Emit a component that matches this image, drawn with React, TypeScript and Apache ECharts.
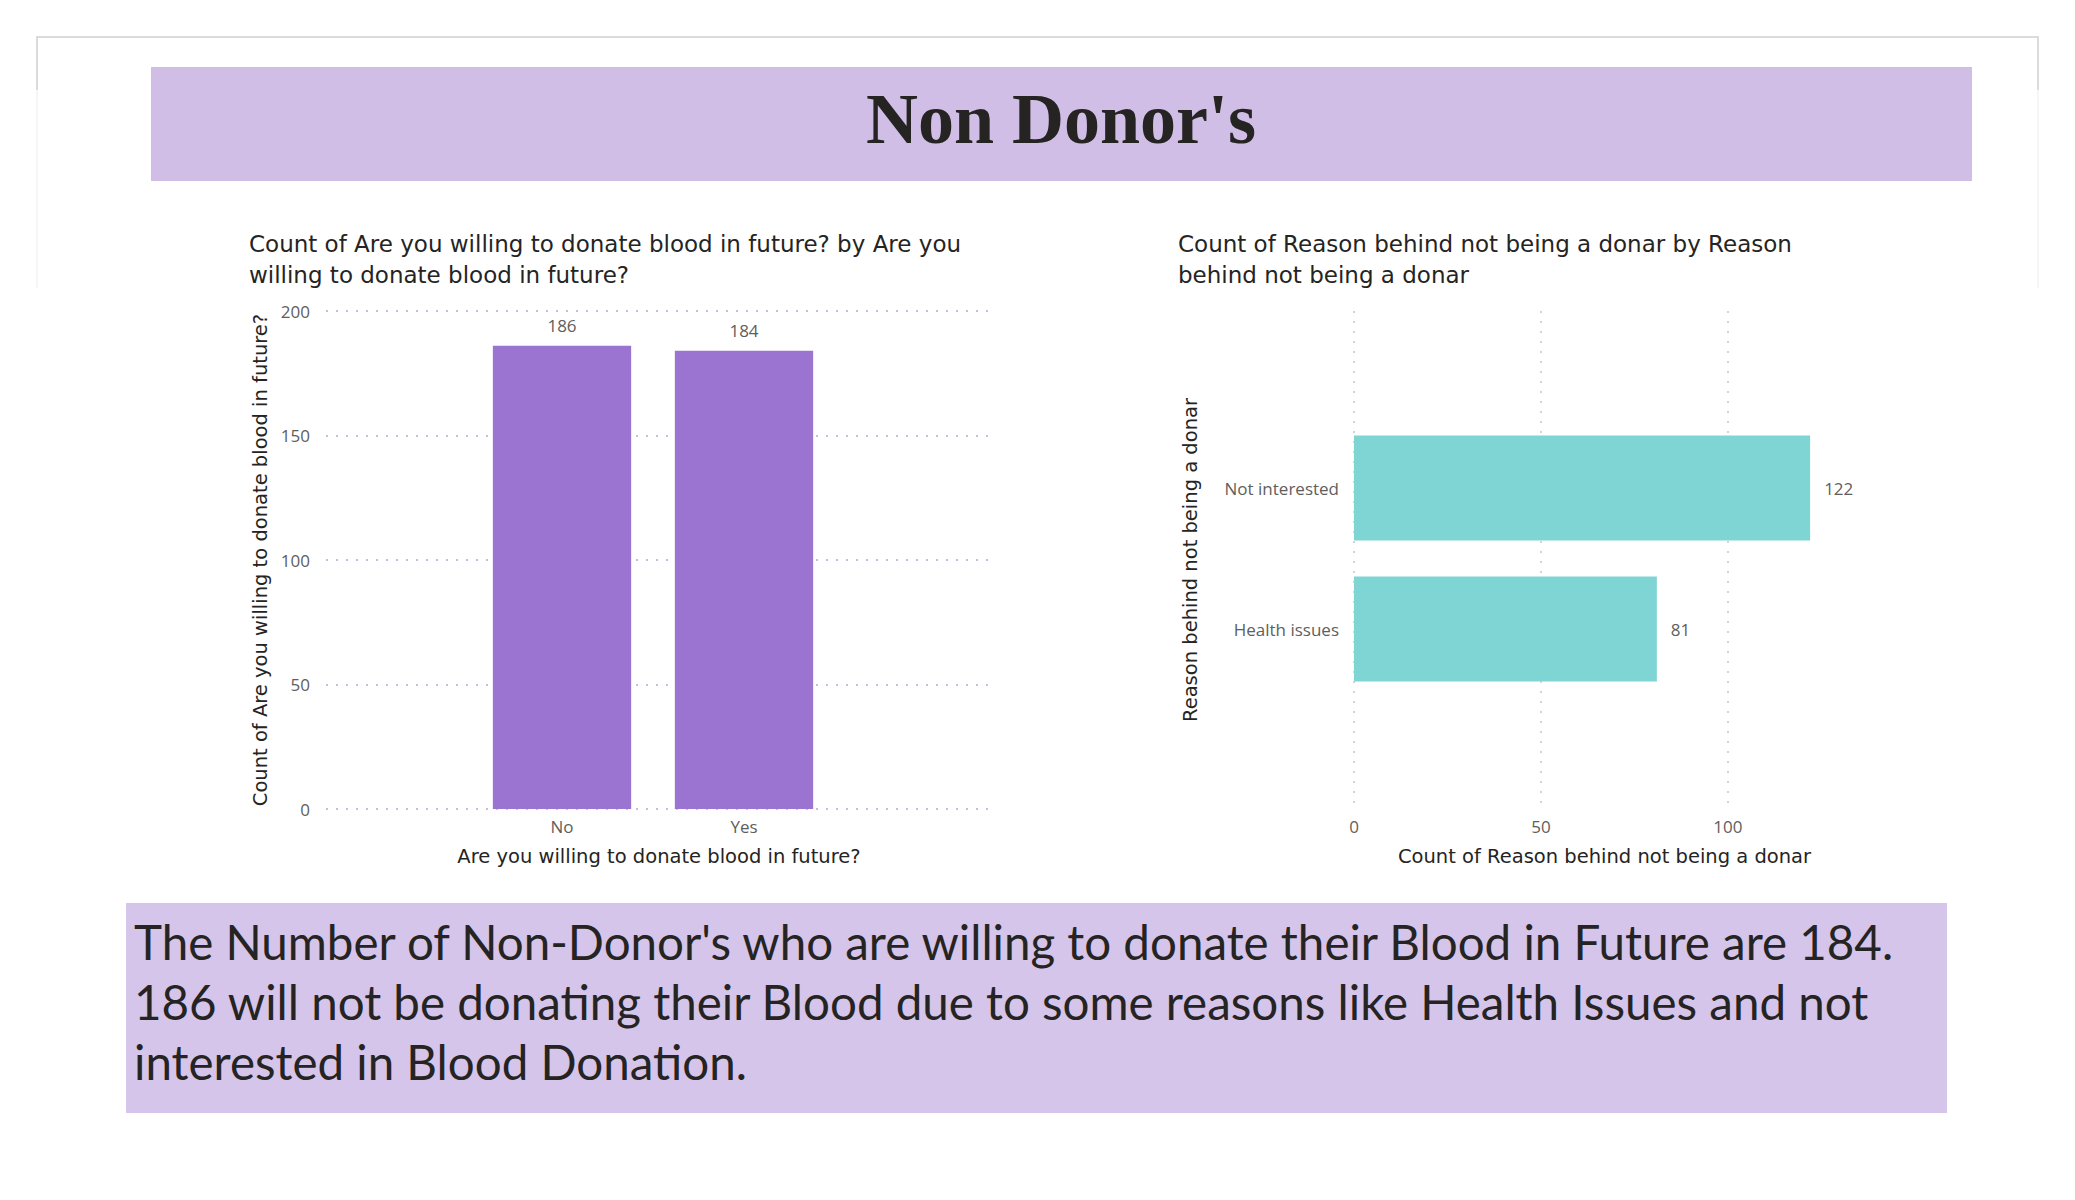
import React, { useEffect, useRef } from "react";
import * as echarts from "echarts";

const pageTitle = "Non Donor's";
const leftTitle = ["Count of Are you willing to donate blood in future? by Are you", "willing to donate blood in future?"];
const rightTitle = ["Count of Reason behind not being a donar by Reason", "behind not being a donar"];
const willingCategories = ["No", "Yes"];
const willingCounts = [186, 184];
const willingAxisName = "Are you willing to donate blood in future?";
const willingValueName = "Count of Are you willing to donate blood in future?";
const reasonCategories = ["Not interested", "Health issues"];
const reasonCounts = [122, 81];
const reasonAxisName = "Reason behind not being a donar";
const reasonValueName = "Count of Reason behind not being a donar";
const summaryLines = [
  "The Number of Non-Donor's who are willing to donate their Blood in Future are 184.",
  "186 will not be donating their Blood due to some reasons like Health Issues and not",
  "interested in Blood Donation.",
];

const TEXT = "#252423";
const TICK = "#605E5C";
const TITLE_FONT = "DejaVu Sans";
const TICK_FONT = "Open Sans";

export default function App() {
  const ref = useRef<HTMLDivElement>(null);
  useEffect(() => {
    if (!ref.current) return;
    const chart = echarts.init(ref.current, null, { renderer: "svg" });
    const hiddenAxis = {
      axisLine: { show: false },
      axisTick: { show: false },
      axisLabel: { show: false },
      splitLine: { show: false },
    };
    const nameStyle = { fontFamily: TITLE_FONT, fontSize: 19.5, color: TEXT };
    const option: any = {
      animation: false,
      backgroundColor: "#ffffff",
      grid: [
        { left: 326, top: 311, width: 666, height: 498 },
        { left: 471, top: 311, width: 364, height: 498 },
        { left: 1354, top: 311, width: 501, height: 498 },
        { left: 1354, top: 417.5, width: 501, height: 282 },
      ],
      xAxis: [
        {
          gridIndex: 0,
          type: "value",
          min: 0,
          max: 1,
          ...hiddenAxis,
          name: willingAxisName,
          nameLocation: "middle",
          nameGap: 37,
          nameTextStyle: nameStyle,
        },
        {
          gridIndex: 1,
          type: "category",
          data: willingCategories,
          axisLine: { show: false },
          axisTick: { show: false },
          axisLabel: { fontFamily: TICK_FONT, fontSize: 17, color: TICK, margin: 9 },
        },
        {
          gridIndex: 2,
          type: "value",
          min: 0,
          max: 134,
          interval: 50,
          axisLine: { show: false },
          axisTick: { show: false },
          axisLabel: { fontFamily: TICK_FONT, fontSize: 17, color: TICK, margin: 9, showMaxLabel: false },
          splitLine: {
            show: true,
            showMaxLine: false,
            lineStyle: { color: "#C8C6C4", type: [2, 8], width: 1.5 },
          },
          name: reasonValueName,
          nameLocation: "middle",
          nameGap: 37,
          nameTextStyle: nameStyle,
        },
        { gridIndex: 3, type: "value", min: 0, max: 134, ...hiddenAxis },
      ],
      yAxis: [
        {
          gridIndex: 0,
          type: "value",
          min: 0,
          max: 200,
          interval: 50,
          axisLine: { show: false },
          axisTick: { show: false },
          axisLabel: { fontFamily: TICK_FONT, fontSize: 17, color: TICK, margin: 16 },
          splitLine: { show: true, lineStyle: { color: "#B8A6DA", type: [2, 8], width: 1.5 } },
          name: willingValueName,
          nameLocation: "middle",
          nameGap: 56,
          nameTextStyle: nameStyle,
        },
        { gridIndex: 1, type: "value", min: 0, max: 200, ...hiddenAxis },
        {
          gridIndex: 2,
          type: "value",
          min: 0,
          max: 1,
          ...hiddenAxis,
          name: reasonAxisName,
          nameLocation: "middle",
          nameGap: 154,
          nameTextStyle: nameStyle,
        },
        {
          gridIndex: 3,
          type: "category",
          inverse: true,
          data: reasonCategories,
          axisLine: { show: false },
          axisTick: { show: false },
          axisLabel: { fontFamily: TICK_FONT, fontSize: 17, color: TICK, margin: 15 },
        },
      ],
      series: [
        {
          type: "bar",
          xAxisIndex: 1,
          yAxisIndex: 1,
          data: willingCounts,
          barCategoryGap: "24%",
          itemStyle: { color: "#9B74D1" },
          label: {
            show: true,
            position: "top",
            distance: 12,
            fontFamily: TICK_FONT,
            fontSize: 17,
            color: TICK,
          },
        },
        {
          type: "bar",
          xAxisIndex: 3,
          yAxisIndex: 3,
          data: reasonCounts,
          barCategoryGap: "25.5%",
          itemStyle: { color: "#7ED5D3" },
          label: {
            show: true,
            position: "right",
            distance: 14,
            fontFamily: TICK_FONT,
            fontSize: 17,
            color: TICK,
          },
        },
      ],
      graphic: [
        {
          type: "polyline",
          silent: true,
          shape: { points: [[37, 90], [37, 37], [2038, 37], [2038, 90]] },
          style: { stroke: "#CFCFCF", lineWidth: 1.5, fill: "none" },
        },
        {
          type: "line",
          silent: true,
          shape: { x1: 37, y1: 90, x2: 37, y2: 288 },
          style: { stroke: "#F3F3F3", lineWidth: 1.5 },
        },
        {
          type: "line",
          silent: true,
          shape: { x1: 2038, y1: 90, x2: 2038, y2: 288 },
          style: { stroke: "#F3F3F3", lineWidth: 1.5 },
        },
        {
          type: "rect",
          silent: true,
          shape: { x: 151, y: 67, width: 1821, height: 114 },
          style: { fill: "#D1BEE7" },
        },
        {
          type: "text",
          silent: true,
          x: 1061,
          y: 119,
          style: {
            text: pageTitle,
            fontFamily: "Liberation Serif",
            fontWeight: "bold",
            fontSize: 72,
            fill: TEXT,
            align: "center",
            verticalAlign: "middle",
          },
        },
        {
          type: "text",
          silent: true,
          x: 249,
          y: 228,
          style: {
            text: leftTitle.join("\n"),
            fontFamily: TITLE_FONT,
            fontSize: 23,
            lineHeight: 31,
            fill: TEXT,
            align: "left",
            verticalAlign: "top",
          },
        },
        {
          type: "text",
          silent: true,
          x: 1178,
          y: 228,
          style: {
            text: rightTitle.join("\n"),
            fontFamily: TITLE_FONT,
            fontSize: 23,
            lineHeight: 31,
            fill: TEXT,
            align: "left",
            verticalAlign: "top",
          },
        },
        {
          type: "rect",
          silent: true,
          shape: { x: 126, y: 903, width: 1821, height: 210 },
          style: { fill: "#D5C5EB" },
        },
        {
          type: "text",
          silent: true,
          x: 134,
          y: 911,
          style: {
            text: summaryLines.join("\n"),
            fontFamily: "Lato",
            fontSize: 47.5,
            lineHeight: 60,
            fill: TEXT,
            align: "left",
            verticalAlign: "top",
          },
        },
      ],
    };
    chart.setOption(option);
    return () => chart.dispose();
  }, []);
  return (
    <div
      ref={ref}
      style={{ position: "fixed", left: 0, top: 0, width: 2075, height: 1200, background: "#fff" }}
    />
  );
}
